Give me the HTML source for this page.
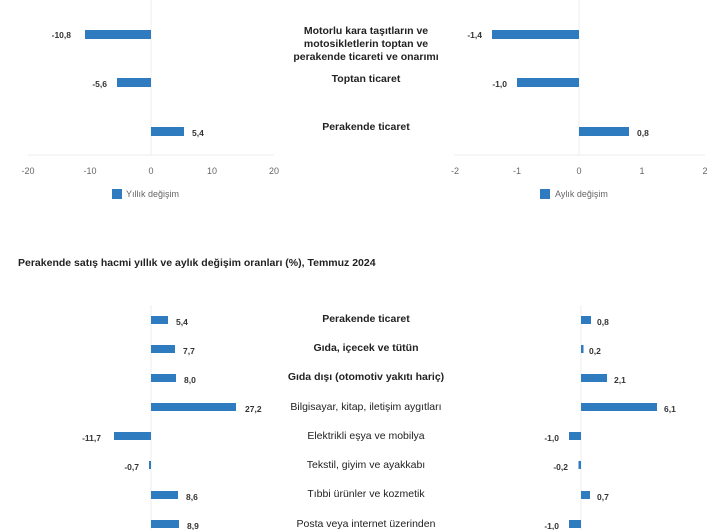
<!DOCTYPE html>
<html><head><meta charset="utf-8"><style>
html,body{margin:0;padding:0;background:#fff;}
svg{display:block;font-family:"Liberation Sans","DejaVu Sans",sans-serif;}
.v{font-size:8.5px;font-weight:bold;fill:#333;}
.t{font-size:9px;fill:#666;}
.c{font-size:10.5px;fill:#222;text-anchor:middle;}
.b{font-weight:bold;}
</style></head><body>
<svg width="720" height="530" viewBox="0 0 720 530">
<line x1="151" y1="0" x2="151" y2="155" stroke="#eee"/>
<line x1="28" y1="155" x2="274" y2="155" stroke="#eee"/>
<rect x="85" y="30" width="66" height="9" fill="#2e7bbf"/>
<rect x="117" y="78" width="34" height="9" fill="#2e7bbf"/>
<rect x="151" y="127" width="33" height="9" fill="#2e7bbf"/>
<text class="v" x="71" y="38" text-anchor="end">-10,8</text>
<text class="v" x="107" y="87" text-anchor="end">-5,6</text>
<text class="v" x="192" y="136">5,4</text>
<g class="t" text-anchor="middle"><text x="28" y="174">-20</text><text x="90" y="174">-10</text><text x="151" y="174">0</text><text x="212" y="174">10</text><text x="274" y="174">20</text></g>
<rect x="112" y="189" width="10" height="10" fill="#2e7bbf"/>
<text class="t" x="126" y="197">Yıllık değişim</text>
<line x1="579" y1="0" x2="579" y2="155" stroke="#eee"/>
<line x1="454" y1="155" x2="705" y2="155" stroke="#eee"/>
<rect x="492" y="30" width="87" height="9" fill="#2e7bbf"/>
<rect x="517" y="78" width="62" height="9" fill="#2e7bbf"/>
<rect x="579" y="127" width="50" height="9" fill="#2e7bbf"/>
<text class="v" x="482" y="38" text-anchor="end">-1,4</text>
<text class="v" x="507" y="87" text-anchor="end">-1,0</text>
<text class="v" x="637" y="136">0,8</text>
<g class="t" text-anchor="middle"><text x="455" y="174">-2</text><text x="517" y="174">-1</text><text x="579" y="174">0</text><text x="642" y="174">1</text><text x="705" y="174">2</text></g>
<rect x="540" y="189" width="10" height="10" fill="#2e7bbf"/>
<text class="t" x="555" y="197">Aylık değişim</text>
<g class="c b"><text x="366" y="34">Motorlu kara taşıtların ve</text><text x="366" y="47">motosikletlerin toptan ve</text><text x="366" y="60">perakende ticareti ve onarımı</text><text x="366" y="82">Toptan ticaret</text><text x="366" y="130">Perakende ticaret</text></g>
<text x="18" y="266" style="font-size:10.5px;font-weight:bold;fill:#222">Perakende satış hacmi yıllık ve aylık değişim oranları (%), Temmuz 2024</text>
<line x1="151" y1="305" x2="151" y2="530" stroke="#eee"/>
<line x1="581" y1="305" x2="581" y2="530" stroke="#eee"/>
<g fill="#2e7bbf">
<rect x="151" y="316" width="17" height="8"/><rect x="151" y="345" width="24" height="8"/><rect x="151" y="374" width="25" height="8"/><rect x="151" y="403" width="85" height="8"/><rect x="114" y="432" width="37" height="8"/><rect x="149" y="461" width="2" height="8"/><rect x="151" y="491" width="27" height="8"/><rect x="151" y="520" width="28" height="8"/>
<rect x="581" y="316" width="10" height="8"/><rect x="581" y="345" width="2.5" height="8"/><rect x="581" y="374" width="26" height="8"/><rect x="581" y="403" width="76" height="8"/><rect x="569" y="432" width="12" height="8"/><rect x="578.5" y="461" width="2.5" height="8"/><rect x="581" y="491" width="9" height="8"/><rect x="569" y="520" width="12" height="8"/>
</g>
<g class="v">
<text x="176" y="325">5,4</text><text x="183" y="354">7,7</text><text x="184" y="383">8,0</text><text x="245" y="412">27,2</text><text x="101" y="441" text-anchor="end">-11,7</text><text x="139" y="470" text-anchor="end">-0,7</text><text x="186" y="500">8,6</text><text x="187" y="529">8,9</text>
<text x="597" y="325">0,8</text><text x="589" y="354">0,2</text><text x="614" y="383">2,1</text><text x="664" y="412">6,1</text><text x="559" y="441" text-anchor="end">-1,0</text><text x="568" y="470" text-anchor="end">-0,2</text><text x="597" y="500">0,7</text><text x="559" y="529" text-anchor="end">-1,0</text>
</g>
<g class="c">
<text class="b" x="366" y="322">Perakende ticaret</text><text class="b" x="366" y="351">Gıda, içecek ve tütün</text><text class="b" x="366" y="380">Gıda dışı (otomotiv yakıtı hariç)</text><text x="366" y="410">Bilgisayar, kitap, iletişim aygıtları</text><text x="366" y="439">Elektrikli eşya ve mobilya</text><text x="366" y="468">Tekstil, giyim ve ayakkabı</text><text x="366" y="497">Tıbbi ürünler ve kozmetik</text><text x="366" y="527">Posta veya internet üzerinden</text>
</g>
</svg>
</body></html>
